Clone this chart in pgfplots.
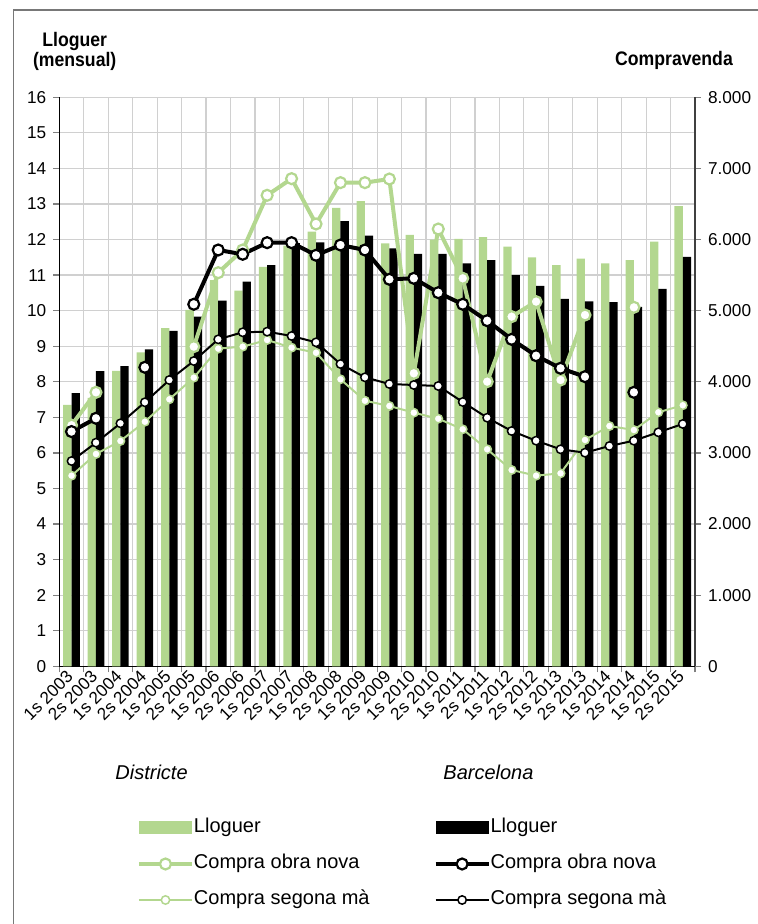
\documentclass[border=0pt]{standalone}
\usepackage{fontspec}
\setmainfont{Liberation Sans}
\newfontfamily\titlefont[FakeStretch=0.9]{Liberation Sans}
\usepackage{pgfplots}
\usepackage{pgfplotstable}
\pgfplotsset{compat=1.18}

\definecolor{verd}{RGB}{179,215,143}
\definecolor{graella}{RGB}{208,208,208}
\definecolor{marc}{RGB}{120,120,120}

% Semestres 1s 2003 ... 2s 2015
% dll/bll: lloguer mensual (Districte / Barcelona)
% don/bon: compra obra nova; dsm/bsm: compra segona ma
\pgfplotstableread{
x  dll   bll   don   bon   dsm   bsm
0  7.35  7.68  3390  3300  2680  2886
1  7.55  8.30  3852  3487  2985  3144
2  8.31  8.44  nan   nan   3168  3416
3  8.83  8.91  nan   4204  3439  3712
4  9.51  9.43  nan   nan   3754  4025
5  10.02 9.83  4494  5090  4058  4292
6  10.86 10.28 5534  5853  4466  4597
7  10.56 10.82 5853  5793  4494  4696
8  11.23 11.28 6622  5956  4588  4705
9  11.83 11.90 6856  5956  4480  4644
10 12.22 11.92 6219  5779  4409  4555
11 12.89 12.52 6800  5923  4035  4250
12 13.08 12.11 6800  5853  3734  4063
13 11.89 11.75 6851  5441  3660  3969
14 12.13 11.60 4119  5455  3566  3955
15 12.00 11.60 6148  5253  3481  3941
16 12.02 11.33 5455  5090  3332  3716
17 12.07 11.42 4002  4859  3051  3495
18 11.80 11.00 4916  4597  2760  3308
19 11.50 10.70 5127  4367  2680  3172
20 11.28 10.33 4025  4190  2713  3051
21 11.46 10.26 4939  4072  3182  3003
22 11.33 10.24 nan   nan   3378  3097
23 11.42 10.11 5047  3852  3322  3172
24 11.94 10.61 nan   nan   3571  3290
25 12.94 11.51 nan   nan   3670  3407
}\dades

\pgfplotsset{
  marcbase/.style={
    at={(29.65pt,128.85pt)}, anchor=south west,
    scale only axis, width=317.85pt, height=284.5pt,
    xmin=-0.5, xmax=25.5,
    tick align=outside,
    major tick length=3pt, minor tick length=3pt,
    tick style={line width=0.6pt},
    ticklabel style={font=\fontsize{8.6}{10}\selectfont},
    /pgf/number format/assume math mode=true,
    /pgf/number format/1000 sep={.},
    scaled ticks=false,
  },
  legbarra/.style={legend image code/.code={\fill[##1, draw=none] (0pt,-3.25pt) rectangle (26.5pt,3.25pt);}},
  leglinia/.style={legend image code/.code={\draw[mark repeat=2, mark phase=2, ##1] plot coordinates {(0pt,0pt) (13.25pt,0pt) (26.5pt,0pt)};}},
  obranova/.style={color=#1, line width=2pt, mark=*, mark size=2.75pt,
    mark options={solid, fill=white, draw=#1, line width=1.1pt}},
  segona/.style={color=#1, line width=1pt, mark=*, mark size=2.1pt,
    mark options={solid, fill=white, draw=#1, line width=0.75pt}},
}

\begin{document}
\begin{tikzpicture}
\path[use as bounding box] (0,0) rectangle (379pt,462pt);
\draw[marc, line width=0.7pt] (6.6pt,-1pt) -- (6.6pt,457pt) -- (380pt,457pt);

% Lloguer: barres, eix esquerre
\begin{axis}[marcbase,
  ymin=0, ymax=16, ytick={0,...,16},
  axis x line*=bottom, axis y line*=left,
  axis line style={line width=0.7pt},
  ybar=0pt, bar width=4.15pt,
  xtick={0,...,25},
  xticklabels={1s 2003,2s 2003,1s 2004,2s 2004,1s 2005,2s 2005,1s 2006,2s 2006,1s 2007,2s 2007,1s 2008,2s 2008,1s 2009,2s 2009,1s 2010,2s 2010,1s 2011,2s 2011,1s 2012,2s 2012,1s 2013,2s 2013,1s 2014,2s 2014,1s 2015,2s 2015},
  major x tick style={draw=none},
  minor xtick={-0.5,0.5,...,25.5},
  xminorgrids=true, ymajorgrids=true,
  grid style={graella, line width=0.6pt},
  minor grid style={graella, line width=0.6pt},
  xticklabel style={rotate=45, anchor=east, inner sep=1pt},
]
\addplot[fill=verd, draw=none] table[x=x, y=dll] {\dades};
\addplot[fill=black, draw=none] table[x=x, y=bll] {\dades};
\end{axis}

% Compravenda: linies, eix dret
\begin{axis}[marcbase,
  ymin=0, ymax=8000, ytick={0,1000,...,8000},
  axis x line=none, axis y line*=right,
  axis line style={black!75, line width=0.7pt},
  unbounded coords=jump,
  legend columns=2,
  legend style={at={(axis description cs:0.1222,-0.2666)}, anchor=north west,
    draw=none, fill=none, inner sep=0pt, outer sep=0pt,
    font=\fontsize{10}{12}\selectfont, row sep=8pt,
    nodes={inner sep=0pt, text height=7.5pt, text depth=2.5pt, anchor=west},
    /tikz/column 1/.style={column sep=0pt},
    /tikz/column 2/.style={column sep=32pt},
    /tikz/column 3/.style={column sep=0pt}},
  legend cell align=left,
]
\addlegendimage{legbarra, fill=verd}
\addlegendimage{legbarra, fill=black}
\addlegendimage{leglinia, obranova=verd}
\addlegendimage{leglinia, obranova=black}
\addlegendimage{leglinia, segona=verd}
\addlegendimage{leglinia, segona=black}
\addlegendentry{Lloguer}
\addlegendentry{Lloguer}
\addlegendentry{Compra obra nova}
\addlegendentry{Compra obra nova}
\addlegendentry{Compra segona mà}
\addlegendentry{Compra segona mà}

\addplot[forget plot, segona=verd] table[x=x, y=dsm] {\dades};
\addplot[forget plot, segona=black] table[x=x, y=bsm] {\dades};
\addplot[forget plot, obranova=verd] table[x=x, y=don] {\dades};
\addplot[forget plot, obranova=black] table[x=x, y=bon] {\dades};
\end{axis}

% Titols dels eixos
\node[anchor=base, font=\titlefont\bfseries\fontsize{9.8}{11}\selectfont] at (37.35pt,438.6pt) {Lloguer};
\node[anchor=base, font=\titlefont\bfseries\fontsize{9.8}{11}\selectfont] at (37.35pt,428.6pt) {(mensual)};
\node[anchor=base, font=\titlefont\bfseries\fontsize{9.8}{11}\selectfont] at (337pt,429pt) {Compravenda};

% Capcaleres de la llegenda
\node[anchor=base west, inner sep=0pt, font=\itshape\fontsize{10}{12}\selectfont] at (57.5pt,72pt) {Districte};
\node[anchor=base west, inner sep=0pt, font=\itshape\fontsize{10}{12}\selectfont] at (221.5pt,72pt) {Barcelona};
\end{tikzpicture}
\end{document}
